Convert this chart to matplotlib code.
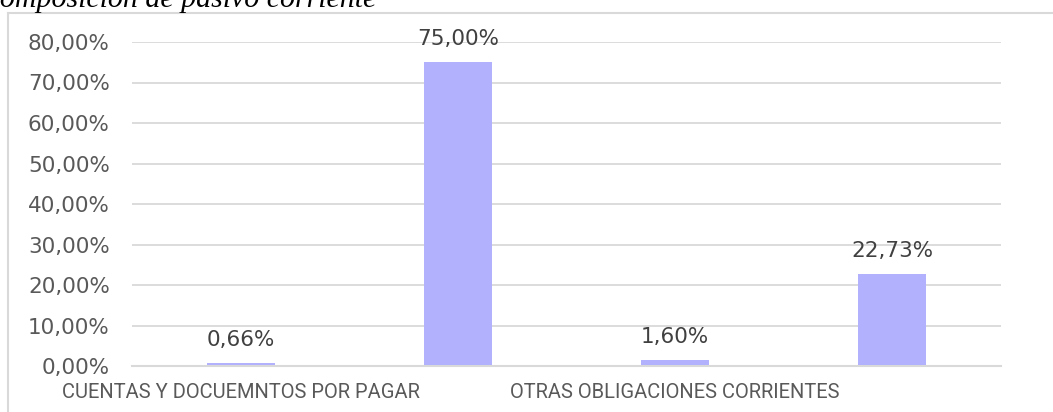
import matplotlib
matplotlib.use("Agg")
import matplotlib.pyplot as plt
from matplotlib.lines import Line2D
from matplotlib.ticker import FuncFormatter

# datos del grafico
categorias = ["CUENTAS Y DOCUEMNTOS POR PAGAR", "", "OTRAS OBLIGACIONES CORRIENTES", ""]
porcentajes = [0.66, 75.00, 1.60, 22.73]
ticks_y = [0, 10, 20, 30, 40, 50, 60, 70, 80]
titulo = "Composición de pasivo corriente"

W, H = 1053, 412
fig = plt.figure(figsize=(W / 100, H / 100), dpi=100)

# area del grafico (pixeles)
izq, der, arriba, abajo = 132, 1001, 42, 366
ax = fig.add_axes([izq / W, 1 - abajo / H, (der - izq) / W, (abajo - arriba) / H])

gris = "#d9d9d9"
texto = "#595959"
num_font = ["DejaVu Sans"]
cat_font = ["Roboto", "DejaVu Sans"]

x = list(range(len(categorias)))
ax.bar(x, porcentajes, width=0.313, color="#b1b1fe", zorder=3)

for xi, v in zip(x, porcentajes):
    etiqueta = f"{v:.2f}%".replace(".", ",")
    ax.annotate(etiqueta, (xi, v), xytext=(0, 12.2), textcoords="offset points",
                ha="center", va="baseline", fontsize=15.5, color="#404040",
                family=num_font, annotation_clip=False)

ax.set_xlim(-0.5, len(categorias) - 0.5)
ax.set_ylim(0, 80)
ax.set_yticks(ticks_y)
ax.yaxis.set_major_formatter(FuncFormatter(lambda v, p: f"{v:.2f}%".replace(".", ",")))
ax.set_xticks(x)
ax.set_xticklabels(categorias)

for lbl in ax.get_yticklabels():
    lbl.set_family(num_font)
    lbl.set_fontsize(15.5)
    lbl.set_color(texto)
for lbl in ax.get_xticklabels():
    lbl.set_family(cat_font)
    lbl.set_fontsize(14.5)
    lbl.set_color(texto)

ax.tick_params(axis="y", length=0, pad=16)
ax.tick_params(axis="x", length=0, pad=12)
ax.grid(axis="y", color=gris, linewidth=1.3, zorder=0)
for s in ["top", "right", "left"]:
    ax.spines[s].set_visible(False)
ax.spines["bottom"].set_color(gris)
ax.spines["bottom"].set_linewidth(1.5)
ax.spines["bottom"].set_zorder(4)

# marco del grafico (borde superior e izquierdo)
fig.add_artist(Line2D([8 / W, 8 / W], [0, 1 - 13 / H], color=gris, linewidth=1.5))
fig.add_artist(Line2D([8 / W, 1], [1 - 13 / H, 1 - 13 / H], color=gris, linewidth=1.5))

# titulo cortado arriba
fig.text(-20 / W, 1 - 7 / H, titulo, ha="left", va="baseline", fontsize=21.5,
         style="italic", family=["Liberation Serif", "DejaVu Serif"], color="black")

fig.savefig("out.png", dpi=100)
